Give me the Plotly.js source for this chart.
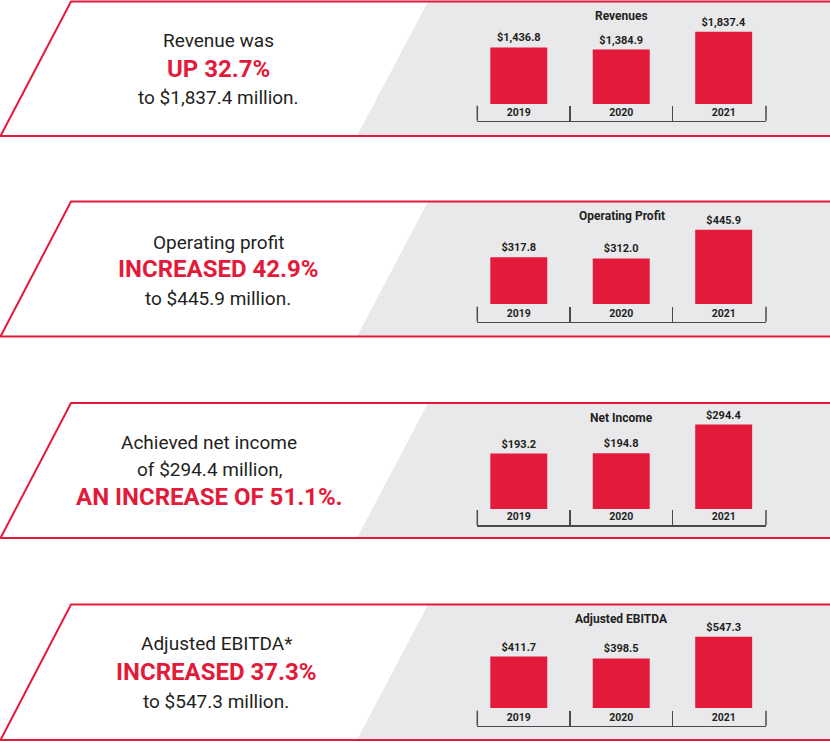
<!DOCTYPE html>
<html>
<head>
<meta charset="utf-8">
<script src="https://cdn.plot.ly/plotly-3.0.1.min.js"></script>
<style>html,body{margin:0;padding:0;background:#fff;}#chart{width:830px;height:741px;}</style>
</head>
<body>
<div id="chart"></div>
<script>
// ---- data ----
const years = ['2019', '2020', '2021'];
const revenues = [1436.8, 1384.9, 1837.4];
const operatingProfit = [317.8, 312.0, 445.9];
const netIncome = [193.2, 194.8, 294.4];
const adjustedEbitda = [411.7, 398.5, 547.3];
const chartTitles = ['Revenues', 'Operating Profit', 'Net Income', 'Adjusted EBITDA'];
const headlineLines = [
  ['Revenue was', 'UP 32.7%', 'to $1,837.4 million.'],
  ['Operating profit', 'INCREASED 42.9%', 'to $445.9 million.'],
  ['Achieved net income', 'of $294.4 million,', 'AN INCREASE OF 51.1%.'],
  ['Adjusted EBITDA*', 'INCREASED 37.3%', 'to $547.3 million.']
];
const boldLineIndex = [1, 1, 2, 1];

// ---- layout / styling ----
const W = 830, H = 741;
const RED = '#e31a3a';
const DARK = '#231f20';
const GRAY = '#e9e9eb';
const AXIS = '#4a4a4a';
const SMALL = 'Roboto, "Liberation Sans", sans-serif';
const MAIN = 'Roboto, "Liberation Sans", sans-serif';

const seriesList = [revenues, operatingProfit, netIncome, adjustedEbitda];
const panelTop = [1.5, 201.5, 403, 604.5];
const panelBottom = [136, 336.5, 538, 740];
const barBottom = [104, 304, 509, 708];
const axisLineY = [120.7, 321.7, 525, 725.7];
const yRanges = [[0, 2567], [100, 570], [0, 364.5], [60, 757]];
const textX = [218, 218, 209, 216];
const textOffsets = [[39.5, 67.7, 95.5], [40.8, 67.7, 96.8], [39.5, 66.7, 93.7], [39.3, 67.3, 96.8]];
const xDomainPx = [477.3, 766];
const xRange = [-0.405, 2.413];

const px = x => x / W;
const py = y => 1 - y / H;

const data = [];
const shapes = [];
const annotations = [];
const layout = {
  width: W, height: H,
  margin: {l: 0, r: 0, t: 0, b: 0, pad: 0},
  paper_bgcolor: '#ffffff',
  plot_bgcolor: 'rgba(0,0,0,0)',
  showlegend: false,
  shapes: shapes,
  annotations: annotations
};

seriesList.forEach((vals, i) => {
  const n = i + 1;
  const xa = 'x' + (n === 1 ? '' : n);
  const ya = 'y' + (n === 1 ? '' : n);
  const top = panelTop[i], bot = panelBottom[i];

  // gray panel
  shapes.push({
    type: 'path', xref: 'paper', yref: 'paper', layer: 'below',
    path: `M ${px(428)} ${py(top)} L ${px(832)} ${py(top)} L ${px(832)} ${py(bot)} L ${px(357)} ${py(bot)} Z`,
    fillcolor: GRAY, line: {width: 0}
  });
  // red outline
  shapes.push({
    type: 'path', xref: 'paper', yref: 'paper', layer: 'below',
    path: `M ${px(832)} ${py(top)} L ${px(71)} ${py(top)} L ${px(0.5)} ${py(bot)} L ${px(832)} ${py(bot)}`,
    fillcolor: 'rgba(0,0,0,0)', line: {color: RED, width: 2}
  });
  // end ticks of bracket
  [0, 1].forEach(d => shapes.push({
    type: 'line', xref: xa + ' domain', yref: 'paper',
    x0: d, x1: d, y0: py(axisLineY[i]), y1: py(axisLineY[i] - 15),
    line: {color: AXIS, width: 1.5}
  }));

  data.push({
    type: 'bar', x: years, y: vals, xaxis: xa, yaxis: ya,
    width: 0.556,
    marker: {color: RED, line: {width: 0}},
    texttemplate: '$%{y:,.1f}', textposition: 'outside', constraintext: 'none',
    textfont: {family: SMALL, size: 11, color: DARK, weight: 'bold'},
    hoverinfo: 'skip'
  });

  layout['xaxis' + (n === 1 ? '' : n)] = {
    type: 'category', domain: [px(xDomainPx[0]), px(xDomainPx[1])],
    range: xRange, anchor: 'free', position: py(axisLineY[i]),
    showline: true, linecolor: AXIS, linewidth: 1.5,
    ticks: 'inside', ticklen: 15, tickwidth: 1.5, tickcolor: AXIS,
    tickson: 'boundaries', ticklabelposition: 'inside', ticklabelstandoff: -13,
    tickfont: {family: SMALL, size: 10.5, color: DARK, weight: 'bold'},
    showgrid: false, zeroline: false, fixedrange: true
  };
  layout['yaxis' + (n === 1 ? '' : n)] = {
    domain: [py(barBottom[i]), py(top + 1.5)],
    range: yRanges[i], anchor: xa,
    visible: false, showgrid: false, zeroline: false, fixedrange: true
  };

  annotations.push({
    xref: xa + ' domain', yref: 'paper', x: 0.5, y: py(top + 14.5),
    xanchor: 'center', yanchor: 'middle', showarrow: false,
    text: chartTitles[i],
    font: {family: SMALL, size: 12, color: DARK, weight: 'bold'}
  });

  headlineLines[i].forEach((line, j) => {
    const bold = j === boldLineIndex[i];
    annotations.push({
      xref: 'paper', yref: 'paper', x: px(textX[i]), y: py(top + textOffsets[i][j]),
      xanchor: 'center', yanchor: 'middle', showarrow: false,
      text: line,
      font: bold ? {family: MAIN, size: 24, color: RED, weight: 'bold'}
                 : {family: MAIN, size: 19, color: DARK}
    });
  });
});

Plotly.newPlot('chart', data, layout, {displayModeBar: false, staticPlot: true});
</script>
</body>
</html>
